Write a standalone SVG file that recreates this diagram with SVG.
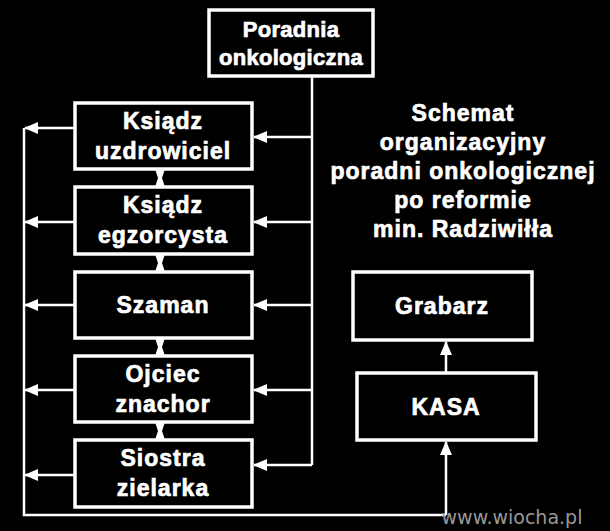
<svg xmlns="http://www.w3.org/2000/svg" width="610" height="531" viewBox="0 0 610 531">
<style>
.b{fill:#000;stroke:#fff;stroke-width:3.5}
.t{font-family:"Liberation Sans",Arial,sans-serif;font-weight:bold;font-size:23px;letter-spacing:1px;fill:#fff;stroke:#fff;stroke-width:0.7;text-anchor:middle}
.s{font-size:22px;letter-spacing:0.3px}
.c{stroke:#fff;stroke-width:2.5;fill:none}
</style>
<defs>
<marker id="m" markerWidth="14" markerHeight="14" refX="13" refY="7" orient="auto" markerUnits="userSpaceOnUse"><path d="M0,1 L14,7 L0,13 z" fill="#fff"/></marker></defs>
<rect width="610" height="531" fill="#000"/>
<g id="connectors">
<path class="c" d="M312 76 V465"/>
<path class="c" marker-end="url(#m)" d="M312 137 H254"/>
<path class="c" marker-end="url(#m)" d="M312 222 H254"/>
<path class="c" marker-end="url(#m)" d="M312 305 H254"/>
<path class="c" marker-end="url(#m)" d="M312 390 H254"/>
<path class="c" marker-end="url(#m)" d="M312 465 H254"/>
<path class="c" d="M24 128 V515 H446"/>
<path class="c" marker-end="url(#m)" d="M75 128 H25"/>
<path class="c" marker-end="url(#m)" d="M75 222 H25"/>
<path class="c" marker-end="url(#m)" d="M75 305 H25"/>
<path class="c" marker-end="url(#m)" d="M75 390 H25"/>
<path class="c" marker-end="url(#m)" d="M75 475 H25"/>
<path class="c" marker-end="url(#m)" d="M446 515 V442"/>
<path class="c" marker-end="url(#m)" d="M446 373 V342"/>
<g fill="#fff"><path d="M155 169 L165 169 L162 178 L165 187 L155 187 L158 178z"/><path d="M155 254 L165 254 L162 263 L165 272 L155 272 L158 263z"/><path d="M155 338 L165 338 L162 347 L165 356 L155 356 L158 347z"/><path d="M155 422 L165 422 L162 431 L165 440 L155 440 L158 431z"/></g>
</g>
<g id="poradnia"><rect class="b" x="209" y="10" width="164" height="66"/><text class="t s" x="291" y="37">Poradnia</text><text class="t s" x="291" y="65">onkologiczna</text></g>
<g id="ksiadz1"><rect class="b" x="75" y="103" width="177" height="66"/><text class="t" x="163" y="129">Ksiądz</text><text class="t" x="163" y="159">uzdrowiciel</text></g>
<g id="ksiadz2"><rect class="b" x="75" y="187" width="177" height="67"/><text class="t" x="163" y="213">Ksiądz</text><text class="t" x="163" y="243">egzorcysta</text></g>
<g id="szaman"><rect class="b" x="75" y="272" width="177" height="66"/><text class="t" x="163" y="313">Szaman</text></g>
<g id="ojciec"><rect class="b" x="75" y="356" width="177" height="66"/><text class="t" x="163" y="382">Ojciec</text><text class="t" x="163" y="412">znachor</text></g>
<g id="siostra"><rect class="b" x="75" y="440" width="177" height="67"/><text class="t" x="163" y="466">Siostra</text><text class="t" x="163" y="496">zielarka</text></g>
<g id="grabarz"><rect class="b" x="353" y="272" width="179" height="68"/><text class="t" x="442" y="314">Grabarz</text></g>
<g id="kasa"><rect class="b" x="357" y="373" width="179" height="67"/><text class="t" x="446" y="415">KASA</text></g>
<g id="title" class="t"><text x="463" y="121">Schemat</text><text x="463" y="150">organizacyjny</text><text x="463" y="179">poradni onkologicznej</text><text x="463" y="208">po reformie</text><text x="463" y="237">min. Radziwiłła</text></g>
<text x="512" y="524" font-family="DejaVu Sans,sans-serif" font-size="19" fill="#999" text-anchor="middle">www.wiocha.pl</text>
</svg>
